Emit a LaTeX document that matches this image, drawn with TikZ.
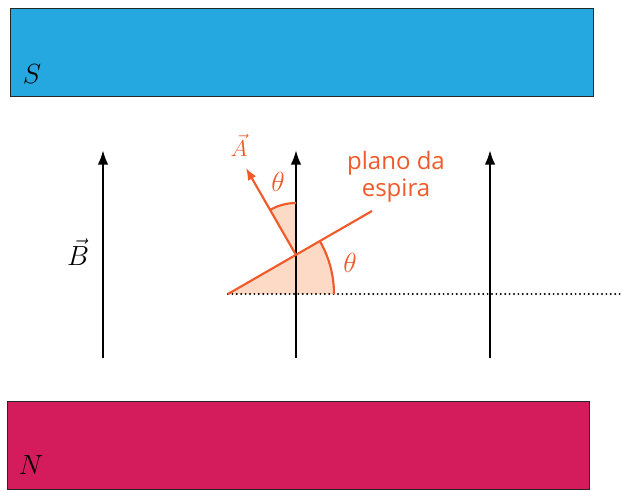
\documentclass[tikz,border=0pt]{standalone}
\usepackage{amsmath}
\usepackage{fontspec}
\usepackage{tikz}
\usetikzlibrary{arrows.meta}
\newfontfamily\planofont{Open Sans}
\definecolor{poloS}{RGB}{37,168,224}
\definecolor{poloN}{RGB}{212,28,92}
\definecolor{laranja}{RGB}{240,90,40}
\definecolor{pele}{RGB}{253,218,197}

\begin{document}
\begin{tikzpicture}[x=.75pt,y=.75pt,
  campo/.style={line width=1.9pt,-{Latex[length=11pt,width=8pt]}},
  ima/.style={draw=black!85,line width=.7pt},
  espira/.style={laranja,line width=1.6pt},
  rot/.style={font=\fontsize{22}{26}\selectfont}]

\useasboundingbox (0,0) rectangle (626,490);

%S and N
\draw[ima,fill=poloS] (10,394) rectangle (593,482);
\draw[ima,fill=poloN] (7,1) rectangle (589,89);
\node[rot] (S) at (32,416) {$S$};
\node[rot] (N) at (31,25) {$N$};

%wedges
\coordinate (L) at (228,196);
\coordinate (P) at (296,235);
\fill[pele] (L) -- ++(0:106) arc (0:30:106) -- cycle;
\fill[pele] (P) -- ++(90:52) arc (90:120:52) -- cycle;

%horizontal
\coordinate (R) at (622,196);
\draw[line width=1.6pt,line cap=round,dash pattern=on 0pt off 3.3pt] (L) -- (R);

%B
\foreach \x/\n in {103/1,296/2,490/3}{
  \coordinate (b\n) at (\x,132);
  \coordinate (t\n) at (\x,340);
  \draw[campo] (b\n) -- (t\n);
}
\node[font=\fontsize{21}{24}\selectfont] (B) at (78,238) {$\vec{B}$};

%plano e A
\coordinate (E) at (372,279);
\coordinate (Ap) at (246,322);
\draw[espira] (L) -- (E);
\draw[espira,-{Latex[length=9pt,width=7pt]}] (P) -- (Ap);
\draw[espira] (296,287) arc (90:120:52);
\draw[espira] (334,196) arc (0:30:106);

\node[laranja,font=\fontsize{18}{20}\selectfont] (A) at (239,345) {$\vec{A}$};
\node[laranja,font=\fontsize{22}{24}\selectfont] (th1) at (278,308) {$\theta$};
\node[laranja,font=\fontsize{22}{24}\selectfont] (th2) at (350,227) {$\theta$};
\node[laranja,align=center,font=\planofont\fontsize{18}{20.5}\selectfont] (txt) at (396,313) {plano da\\espira};

\end{tikzpicture}
\end{document}
